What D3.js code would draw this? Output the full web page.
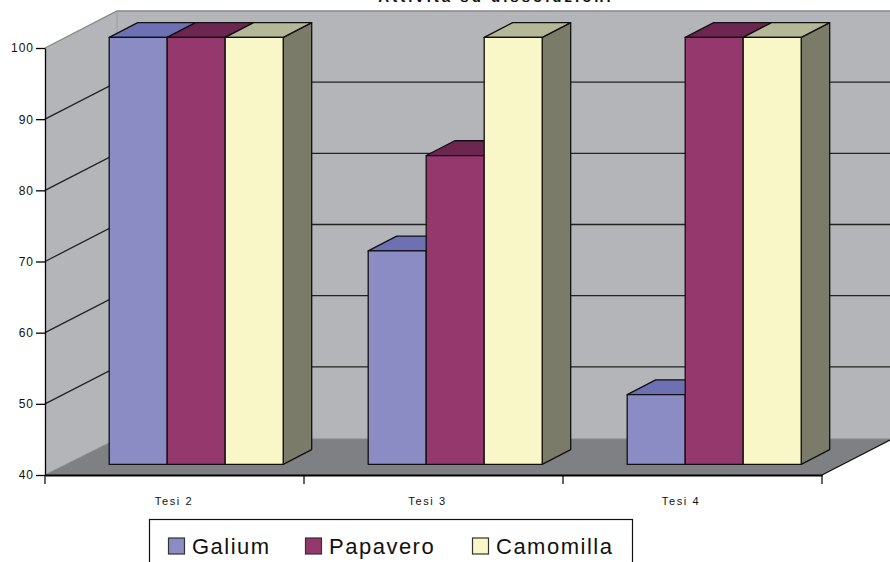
<!DOCTYPE html>
<html lang="en">
<head>
    <meta charset="UTF-8">
    <title>Tesi</title>
    <script src="https://d3js.org/d3.v7.min.js"></script>
    <style>
        html, body { margin: 0; padding: 0; background: white; overflow: hidden; }
        svg { display: block; }
        text { font-family: "Liberation Sans", Arial, sans-serif; fill: #111; }
    </style>
</head>
<body>
    <script>
        const categories = ["Tesi 2", "Tesi 3", "Tesi 4"];
        const seriesNames = ["Galium", "Papavero", "Camomilla"];
        const galium = [100, 70, 49.8];
        const papavero = [100, 83.4, 100];
        const camomilla = [100, 100, 100];
        const seriesValues = [galium, papavero, camomilla];
        const yTicks = [40, 50, 60, 70, 80, 90, 100];

        const front = ["#8a8cc3", "#94386d", "#f9f7c7"];
        const top3d = ["#6d70b3", "#6c264f", "#b4b899"];
        const side = "#7a7c69";

        const W = 890, H = 562;
        const svg = d3.select("body").append("svg").attr("width", W).attr("height", H);

        const x = d3.scaleBand().domain(categories).range([45, 822]);
        const y = d3.scaleLinear().domain([40, 100]).range([475, 48]);
        const inner = d3.scaleBand().domain(seriesNames).range([0, 174]);
        const labelX = d3.scalePoint().domain(categories).range([174, 681]);

        // 3d offsets
        const wallDx = 72, wallDy = -37;
        const barDx = 21, barDy = -10.6;
        const depthDx = 28.5, depthDy = -14.8;
        const groupPad = 43.2;

        const poly = pts => pts.map(p => p.join(",")).join(" ");
        const backX = x.range()[0] + wallDx;
        const y0 = y(40), y1 = y(100);
        const floorBack = y0 + wallDy + 1;
        const floorEnd = y0 + wallDy * (W - 822) / wallDx;

        // walls
        svg.append("polygon")
            .attr("points", poly([[backX, y1 + wallDy], [W, y1 + wallDy], [W, floorBack], [backX, floorBack]]))
            .attr("fill", "#b4b5b9");
        svg.append("polygon")
            .attr("points", poly([[45, y1], [backX, y1 + wallDy], [backX, floorBack], [45, y0]]))
            .attr("fill", "#b4b5b9");
        svg.append("polygon")
            .attr("points", poly([[45, y0], [backX, floorBack], [W, floorBack], [W, floorEnd], [822, y0]]))
            .attr("fill", "#7f8084");

        // grey wall edges
        svg.append("polyline")
            .attr("points", poly([[45, y1], [backX, y1 + wallDy], [W, y1 + wallDy]]))
            .attr("fill", "none").attr("stroke", "#86878a").attr("stroke-width", 1.4);
        svg.append("line")
            .attr("x1", backX).attr("x2", backX)
            .attr("y1", y1 + wallDy).attr("y2", floorBack)
            .attr("stroke", "#9a9b9f").attr("stroke-width", 1);
        svg.append("line")
            .attr("x1", backX).attr("x2", W)
            .attr("y1", floorBack).attr("y2", floorBack)
            .attr("stroke", "#86878a").attr("stroke-width", 1);
        svg.append("line")
            .attr("x1", 45).attr("x2", backX)
            .attr("y1", y0).attr("y2", floorBack)
            .attr("stroke", "#86878a").attr("stroke-width", 1);
        svg.append("line")
            .attr("x1", 822).attr("x2", W)
            .attr("y1", y0).attr("y2", floorEnd)
            .attr("stroke", "#111").attr("stroke-width", 1.3);

        // gridlines
        const grid = yTicks.filter(d => d > 40 && d < 100);
        svg.append("g").selectAll("polyline").data(grid).enter().append("polyline")
            .attr("points", d => poly([[45, y(d)], [backX, y(d) + wallDy], [W, y(d) + wallDy]]))
            .attr("fill", "none").attr("stroke", "#222").attr("stroke-width", 1.3);

        // bars
        categories.forEach((cat, i) => {
            seriesNames.forEach((name, j) => {
                const v = seriesValues[j][i];
                const left = x(cat) + groupPad + barDx + inner(name);
                const right = left + inner.bandwidth();
                const t = y(v) + barDy;
                const b = y0 + barDy;
                const g = svg.append("g").attr("stroke", "#111").attr("stroke-width", 1.3).attr("stroke-linejoin", "round");
                g.append("polygon")
                    .attr("points", poly([[right, t], [right + depthDx, t + depthDy], [right + depthDx, b + depthDy], [right, b]]))
                    .attr("fill", side);
                g.append("polygon")
                    .attr("points", poly([[left, t], [left + depthDx, t + depthDy], [right + depthDx, t + depthDy], [right, t]]))
                    .attr("fill", top3d[j]);
                g.append("rect")
                    .attr("x", left).attr("y", t)
                    .attr("width", inner.bandwidth()).attr("height", b - t)
                    .attr("fill", front[j]);
            });
        });

        // axes
        const yAxis = d3.axisLeft(y).tickValues(yTicks).tickSize(9).tickPadding(2).tickSizeOuter(0);
        const gy = svg.append("g").attr("transform", "translate(45,0)").call(yAxis);
        gy.selectAll("text").style("font-size", "12px").style("letter-spacing", "1px");
        gy.selectAll("line").attr("stroke-width", 1.3);
        gy.select(".domain").attr("stroke-width", 1.3);

        const xAxis = d3.axisBottom(x).tickValues([]).tickSizeOuter(0);
        const gx = svg.append("g").attr("transform", `translate(0,${y0})`).call(xAxis);
        gx.select(".domain").attr("stroke", "#000").attr("stroke-width", 2);
        const edges = [x.range()[0]].concat(categories.map(c => x(c) + x.bandwidth()));
        gx.selectAll(".edge").data(edges).enter().append("line")
            .attr("class", "edge")
            .attr("x1", d => d).attr("x2", d => d)
            .attr("y1", 0).attr("y2", 9)
            .attr("stroke", "#000").attr("stroke-width", 1.2);
        svg.append("g").selectAll("text").data(categories).enter().append("text")
            .attr("x", d => labelX(d))
            .attr("y", 505)
            .attr("text-anchor", "middle")
            .style("font-size", "11px")
            .style("letter-spacing", "1.6px")
            .text(d => d);

        // title, cut by the top of the image as in the source
        svg.append("text")
            .attr("x", 496).attr("y", 1.5)
            .attr("text-anchor", "middle")
            .style("font-size", "15px")
            .style("font-weight", "bold")
            .style("letter-spacing", "3px")
            .text("Attività su dissoluzioni");

        // legend, cut by the bottom of the image
        svg.append("rect")
            .attr("x", 149.5).attr("y", 519.5).attr("width", 483).attr("height", 60)
            .attr("fill", "white").attr("stroke", "#111").attr("stroke-width", 1.2);
        const legendX = d3.scaleOrdinal().domain(seriesNames).range([168.5, 305.5, 472.5]);
        const leg = svg.append("g").selectAll("g").data(seriesNames).enter().append("g")
            .attr("transform", d => `translate(${legendX(d)},538)`);
        leg.append("rect")
            .attr("width", 16).attr("height", 16)
            .attr("fill", (d, i) => front[i]).attr("stroke", "#333").attr("stroke-width", 1.2);
        leg.append("text")
            .attr("x", 23.5).attr("y", 16)
            .style("font-size", "22px")
            .style("letter-spacing", "1.5px")
            .text(d => d);
    </script>
</body>
</html>
